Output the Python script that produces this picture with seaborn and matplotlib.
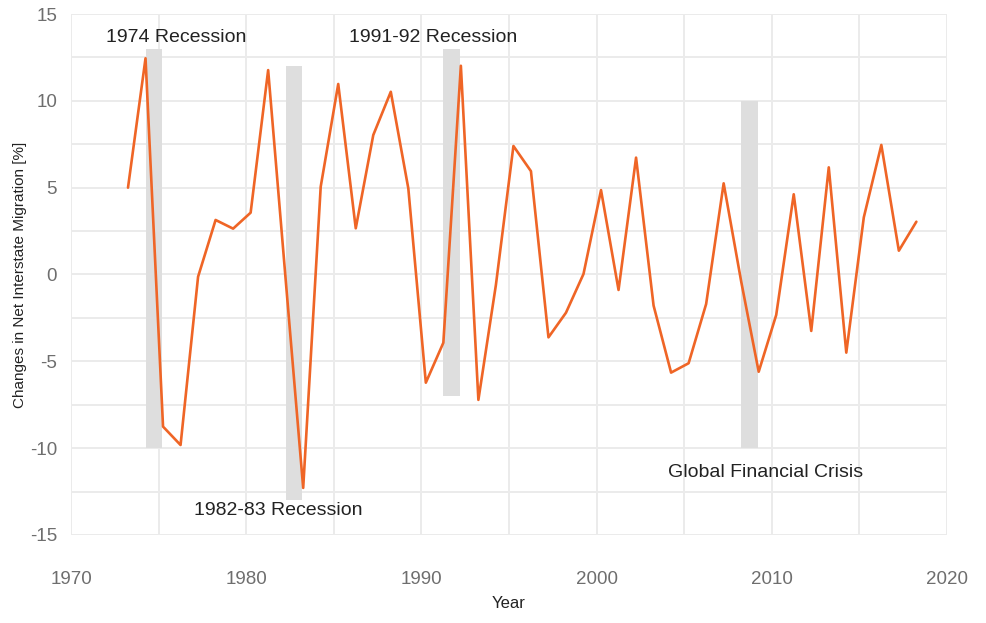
import numpy as np
import pandas as pd
import matplotlib
matplotlib.use("Agg")
import matplotlib.pyplot as plt
from matplotlib.ticker import MultipleLocator
import seaborn as sns

# ================= DATA =================
years = list(range(1973, 2019))
migration_change = [
    5.0, 12.45, -8.76, -9.82, -0.13, 3.14, 2.64, 3.56, 11.77, -0.3,
    -12.29, 5.06, 10.97, 2.66, 8.03, 10.52, 4.96, -6.23, -3.93, 12.02,
    -7.22, -0.6, 7.4, 5.95, -3.62, -2.2, 0.03, 4.86, -0.89, 6.73,
    -1.79, -5.65, -5.11, -1.70, 5.25, -0.4, -5.6, -2.33, 4.62, -3.25,
    6.17, -4.50, 3.29, 7.46, 1.37, 3.04,
]

recession_start = [1974, 1982, 1991, 2008]
recession_top = [13, 12, 13, 10]
recession_bottom = [-10, -13, -7, -10]

label_text = ["1974 Recession", "1982-83 Recession", "1991-92 Recession", "Global Financial Crisis"]
label_x = [1976.0, 1981.85, 1990.65, 2009.65]
label_y = [13.65, -13.6, 13.65, -11.4]

# mid-year offset of the observations
x_offset = 0.25

df = pd.DataFrame({"Year": np.array(years) + x_offset, "Change": migration_change})

# ================= STYLE =================
sns.set_theme(style="whitegrid")
plt.rcParams["font.family"] = ["Liberation Sans", "DejaVu Sans"]
plt.rcParams["axes.unicode_minus"] = False

fig = plt.figure(figsize=(9.87, 6.23), dpi=100)
ax = fig.add_axes([0.072, 0.1413, 0.8875, 0.8362])

# ================= RECESSION BARS =================
ax.bar(
    np.array(recession_start) + x_offset,
    np.array(recession_top) - np.array(recession_bottom),
    bottom=recession_bottom,
    width=0.96,
    align="edge",
    color="#dedede",
    linewidth=0,
    zorder=2,
)

# ================= LINE =================
sns.lineplot(data=df, x="Year", y="Change", color="#ef6526", linewidth=1.9, ax=ax, zorder=3)

for txt, tx, ty in zip(label_text, label_x, label_y):
    ax.text(tx, ty, txt, ha="center", va="center", fontsize=14, color="#222222", zorder=4)

# ================= AXES =================
ax.set_xlim(1970, 2020)
ax.set_ylim(-15, 15)
ax.xaxis.set_major_locator(MultipleLocator(10))
ax.xaxis.set_minor_locator(MultipleLocator(5))
ax.yaxis.set_major_locator(MultipleLocator(5))
ax.yaxis.set_minor_locator(MultipleLocator(2.5))

ax.grid(which="both", color="#ebebeb", linewidth=1.4)
ax.set_axisbelow(True)
for s in ax.spines.values():
    s.set_visible(False)

ax.tick_params(axis="x", which="both", length=0, pad=26, labelsize=13.5, labelcolor="#6e6e6e")
ax.tick_params(axis="y", which="both", length=0, pad=10, labelsize=13.5, labelcolor="#6e6e6e")

ax.set_xlabel("Year", fontsize=12, color="#222222", labelpad=6)
ax.set_ylabel("Changes in Net Interstate Migration [%]", fontsize=11, color="#222222", labelpad=2)

plt.savefig("out.png", dpi=100)
